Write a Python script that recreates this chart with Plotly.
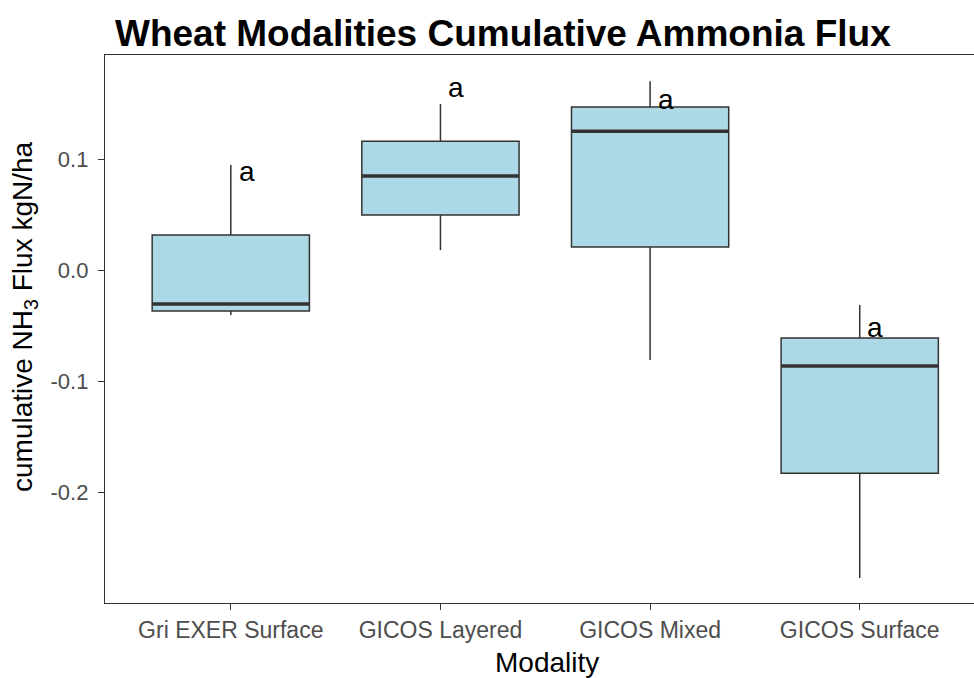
import plotly.graph_objects as go

categories = ["Gri EXER Surface", "GICOS Layered", "GICOS Mixed", "GICOS Surface"]
q1 = [-0.037, 0.0495, 0.0207, -0.183]
median = [-0.0306, 0.0847, 0.125, -0.0865]
q3 = [0.0315, 0.116, 0.1468, -0.0613]
lower_fence = [-0.0405, 0.018, -0.081, -0.2775]
upper_fence = [0.0946, 0.1495, 0.170, -0.0315]
letters = ["a", "a", "a", "a"]
letter_y = [0.0883, 0.164, 0.154, -0.0514]
tick_vals = [-0.2, -0.1, 0.0, 0.1]
tick_text = ["-0.2", "-0.1", "0.0", "0.1"]

pos = list(range(len(categories)))
box_w = 0.75
dark = "#333333"
font = "Liberation Sans, Arial, sans-serif"

fig = go.Figure()
fig.add_trace(go.Box(
    x=pos, q1=q1, median=median, q3=q3,
    lowerfence=lower_fence, upperfence=upper_fence,
    width=box_w, whiskerwidth=0,
    fillcolor="#ADD8E6", line=dict(color=dark, width=1.5),
    boxpoints=False, showlegend=False, hoverinfo="skip",
))
for i, m in zip(pos, median):
    fig.add_trace(go.Scatter(
        x=[i - box_w / 2, i + box_w / 2], y=[m, m], mode="lines",
        line=dict(color=dark, width=3.5), showlegend=False, hoverinfo="skip",
    ))
for i, (t, yv) in enumerate(zip(letters, letter_y)):
    fig.add_annotation(x=i + 0.075, y=yv, text=t, showarrow=False,
                       xanchor="center", yanchor="middle",
                       font=dict(family=font, size=28, color="black"))

# axis titles (placed like ggplot, centred on the full panel)
fig.add_annotation(text="Modality", xref="paper", yref="paper",
                   x=(547 - 105) / 869, y=-(662 - 603) / 548,
                   xanchor="center", yanchor="middle", showarrow=False,
                   font=dict(family=font, size=28, color="black"))
fig.add_annotation(text="cumulative NH<sub>3</sub> Flux kgN/ha", xref="paper", yref="paper",
                   x=(24 - 105) / 869, y=(603 - 317) / 548, textangle=-90,
                   xanchor="center", yanchor="middle", showarrow=False,
                   font=dict(family=font, size=28, color="black"))

fig.update_layout(
    width=974, height=678, autosize=False,
    margin=dict(l=105, r=0, t=55, b=75),
    paper_bgcolor="white", plot_bgcolor="white",
    font=dict(family=font),
    title=dict(text="<b>Wheat Modalities Cumulative Ammonia Flux</b>",
               x=115 / 974, xanchor="left", y=1 - 33 / 678, yanchor="middle",
               font=dict(family=font, size=37, color="black")),
)
fig.update_xaxes(
    range=[-0.6, 3.545], tickvals=pos, ticktext=categories,
    showline=True, mirror=True, linecolor=dark, linewidth=1.3,
    ticks="outside", ticklen=6, tickcolor=dark, tickwidth=1.1,
    showgrid=False, zeroline=False,
    tickfont=dict(family=font, size=23, color="#4D4D4D"),
)
fig.update_yaxes(
    range=[-0.3, 0.1937], tickvals=tick_vals, ticktext=tick_text,
    showline=True, mirror=False, linecolor=dark, linewidth=1.3,
    ticks="outside", ticklen=6, tickcolor=dark, tickwidth=1.1,
    ticklabelstandoff=5,
    showgrid=False, zeroline=False,
    tickfont=dict(family=font, size=22, color="#4D4D4D"),
)

fig.write_html("out.html", config={"displayModeBar": False},
               post_script="document.body.style.margin='0';")
